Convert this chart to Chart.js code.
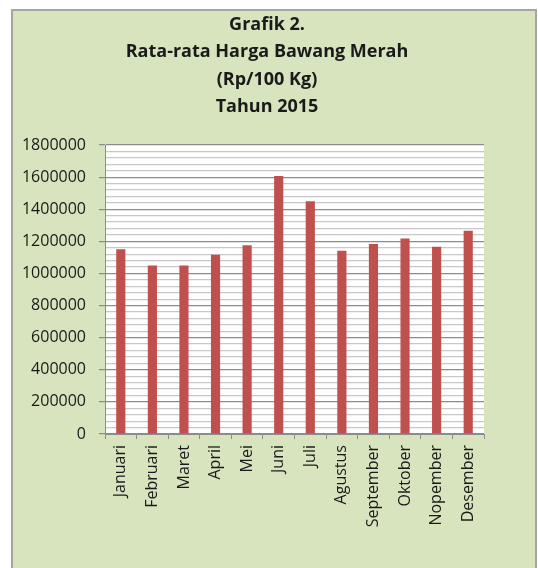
<!DOCTYPE html>
<html>
<head>
<meta charset="utf-8">
<script src="https://cdn.jsdelivr.net/npm/chart.js@4/dist/chart.umd.min.js"></script>
<style>
  body { margin: 0; background: #ffffff; }
  #box {
    position: absolute; left: 11px; top: 9px;
    width: 522px; height: 570px;
    background: #d7e4bd;
    border: 2px solid #a5a5a5;
  }
  #myChart { position: absolute; left: 0; top: 0; }
</style>
</head>
<body>
<div id="box"><canvas id="myChart" width="522" height="560"></canvas></div>
<script>
// data
const months = ['Januari', 'Februari', 'Maret', 'April', 'Mei', 'Juni', 'Juli',
                'Agustus', 'September', 'Oktober', 'Nopember', 'Desember'];
const prices = [1150000, 1050000, 1050000, 1117000, 1175000, 1607000, 1449000,
                1142000, 1183000, 1217000, 1167000, 1266000];
const titleLines = ['Grafik 2.', 'Rata-rata Harga Bawang Merah', '(Rp/100 Kg)', 'Tahun 2015'];
const yMax = 1800000;
const yMajorStep = 200000;
const yMinorStep = 40000;

const isMajor = v => v % yMajorStep === 0;

// white plot area like the Excel original
const plotBg = {
    id: 'plotBg',
    beforeDraw(chart) {
        const a = chart.chartArea;
        const c = chart.ctx;
        c.save();
        c.fillStyle = '#ffffff';
        c.fillRect(a.left, a.top, a.right - a.left, a.bottom - a.top);
        c.restore();
    }
};

// the Excel title is centred on the whole chart box, not on the plot,
// so it is drawn here instead of with the title plugin
const boxTitle = {
    id: 'boxTitle',
    afterDraw(chart) {
        const c = chart.ctx;
        c.save();
        c.fillStyle = '#1a1a1a';
        c.font = 'bold 18px "Open Sans"';
        c.textAlign = 'center';
        c.textBaseline = 'middle';
        titleLines.forEach((t, i) => c.fillText(t, 254, 14 + i * 27.3));
        c.restore();
    }
};

const ctx = document.getElementById('myChart').getContext('2d');
const myChart = new Chart(ctx, {
    type: 'bar',
    data: {
        labels: months,
        datasets: [{
            data: prices,
            backgroundColor: '#c0504d',
            borderWidth: 0,
            barPercentage: 0.29,
            categoryPercentage: 1
        }]
    },
    options: {
        responsive: false,
        animation: false,
        layout: { padding: { left: 0, right: 51, top: 134, bottom: 0 } },
        plugins: {
            legend: { display: false },
            tooltip: { enabled: false },
            title: { display: false }
        },
        scales: {
            x: {
                offset: true,
                grid: {
                    offset: true,
                    drawOnChartArea: false,
                    drawTicks: true,
                    tickLength: 5,
                    tickColor: '#8c8c8c'
                },
                border: { color: '#8c8c8c', width: 1 },
                ticks: {
                    color: '#1a1a1a',
                    font: { family: 'Open Sans', size: 16 },
                    maxRotation: 90,
                    minRotation: 90,
                    padding: 6,
                    autoSkip: false
                },
                afterFit(scale) { scale.height = 137; }
            },
            y: {
                min: 0,
                max: yMax,
                grid: {
                    color: c => isMajor(c.tick.value) ? '#8c8c8c' : '#c8c8c8',
                    lineWidth: 1.2,
                    tickLength: 6,
                    tickColor: c => isMajor(c.tick.value) ? '#8c8c8c' : 'rgba(0,0,0,0)'
                },
                border: { color: '#8c8c8c', width: 1 },
                ticks: {
                    stepSize: yMinorStep,
                    autoSkip: false,
                    color: '#1a1a1a',
                    font: { family: 'Open Sans', size: 16 },
                    padding: 13,
                    callback: v => isMajor(v) ? String(v) : ''
                },
                afterFit(scale) { scale.width = 92; }
            }
        }
    },
    plugins: [plotBg, boxTitle]
});
</script>
</body>
</html>
